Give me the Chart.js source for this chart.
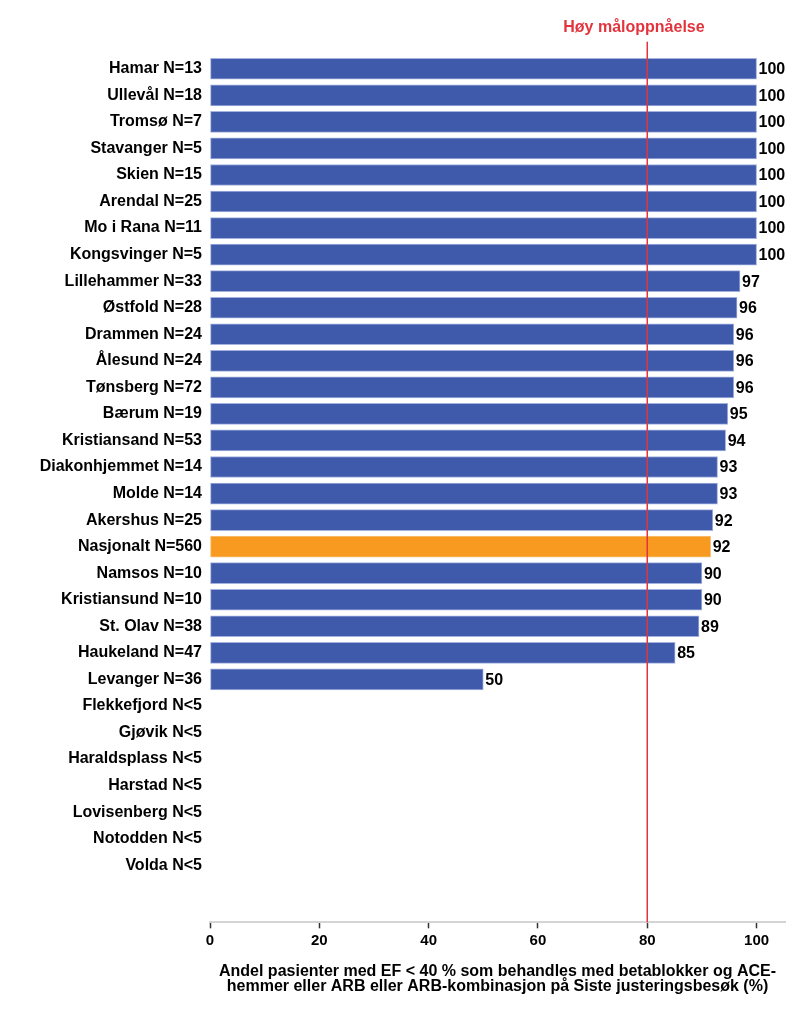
<!DOCTYPE html>
<html>
<head>
<meta charset="utf-8">
<script src="https://cdn.jsdelivr.net/npm/chart.js@4/dist/chart.umd.min.js"></script>
<style>
  html, body { margin: 0; padding: 0; background: #ffffff; }
  canvas { display: block; }
</style>
</head>
<body>
<canvas id="chart" width="794" height="1028"></canvas>
<script>
// Data
const categories = [
  'Hamar N=13', 'Ullevål N=18', 'Tromsø N=7', 'Stavanger N=5', 'Skien N=15',
  'Arendal N=25', 'Mo i Rana N=11', 'Kongsvinger N=5', 'Lillehammer N=33',
  'Østfold N=28', 'Drammen N=24', 'Ålesund N=24', 'Tønsberg N=72', 'Bærum N=19',
  'Kristiansand N=53', 'Diakonhjemmet N=14', 'Molde N=14', 'Akershus N=25',
  'Nasjonalt N=560', 'Namsos N=10', 'Kristiansund N=10', 'St. Olav N=38',
  'Haukeland N=47', 'Levanger N=36', 'Flekkefjord N<5', 'Gjøvik N<5',
  'Haraldsplass N<5', 'Harstad N<5', 'Lovisenberg N<5', 'Notodden N<5', 'Volda N<5'
];
const shares = [
  100, 100, 100, 100, 100, 100, 100, 100, 96.97,
  96.43, 95.83, 95.83, 95.83, 94.74,
  94.34, 92.86, 92.86, 92.0,
  91.6, 90.0, 90.0, 89.47,
  85.1, 50.0, null, null,
  null, null, null, null, null
];
const xTicks = [0, 20, 40, 60, 80, 100];
const targetValue = 80;
const targetLabel = 'Høy måloppnåelse';
const axisTitle = [
  'Andel pasienter med EF < 40 % som behandles med betablokker og ACE-',
  'hemmer eller ARB eller ARB-kombinasjon på Siste justeringsbesøk (%)'
];

const FONT = '"Liberation Sans", Arial, sans-serif';
const BLUE = '#3f59ab';
const BLUE_EDGE = '#a3b2df';
const ORANGE = '#f89a1f';
const ORANGE_EDGE = '#fbc27a';
const RED = '#e3343e';

const isNational = (i) => categories[i].startsWith('Nasjonalt');

const extrasPlugin = {
  id: 'extras',
  afterDatasetsDraw(c) {
    const { ctx, chartArea } = c;
    const xs = c.scales.x;
    // value labels at bar ends
    const meta = c.getDatasetMeta(0);
    ctx.save();
    ctx.font = `bold 16px ${FONT}`;
    ctx.fillStyle = '#000000';
    ctx.textAlign = 'left';
    ctx.textBaseline = 'middle';
    meta.data.forEach((bar, i) => {
      if (shares[i] == null) return;
      ctx.fillText(String(Math.round(shares[i])), bar.x + 2, bar.y + 1);
    });
    // target line
    const lx = xs.getPixelForValue(targetValue);
    ctx.fillStyle = RED;
    ctx.fillRect(lx - 0.75, chartArea.top, 1.5, chartArea.bottom - chartArea.top);
    ctx.fillText(targetLabel, lx - 84, chartArea.top - 14);
    ctx.restore();
  }
};

new Chart(document.getElementById('chart'), {
  type: 'bar',
  data: {
    datasets: [{
      data: categories.map((c, i) => ({ y: i, x: shares[i] })),
      backgroundColor: (ctx) => isNational(ctx.dataIndex) ? ORANGE : BLUE,
      borderColor: (ctx) => isNational(ctx.dataIndex) ? ORANGE_EDGE : BLUE_EDGE,
      borderWidth: 1,
      borderSkipped: false,
      barThickness: 21,
    }]
  },
  options: {
    indexAxis: 'y',
    responsive: false,
    animation: false,
    devicePixelRatio: 1,
    layout: {
      padding: { top: 41.7, right: 9, left: 0, bottom: 0 },
    },
    scales: {
      y: {
        type: 'linear',
        reverse: true,
        offset: false,
        bounds: 'data',
        min: -1.02,
        max: 32.15,
        grid: { display: false, drawTicks: false },
        border: { display: false },
        afterBuildTicks: (scale) => { scale.ticks = categories.map((c, i) => ({ value: i })); },
        ticks: {
          autoSkip: false,
          padding: 8,
          color: '#000000',
          font: { family: FONT, size: 16, weight: 'bold' },
          callback: (v) => categories[v] ?? '',
        },
        afterFit: (scale) => { scale.width = 210; },
      },
      x: {
        type: 'linear',
        min: 0,
        max: 105.2,
        grid: {
          drawOnChartArea: false,
          tickLength: 6,
          tickWidth: 1.5,
          tickColor: '#333333',
        },
        border: { color: '#d4d4d4', width: 2 },
        afterBuildTicks: (scale) => { scale.ticks = xTicks.map((v) => ({ value: v })); },
        ticks: {
          padding: 4,
          color: '#000000',
          font: { family: FONT, size: 15, weight: 'bold' },
        },
        title: {
          display: true,
          text: axisTitle,
          color: '#000000',
          font: { family: FONT, size: 16, weight: 'bold', lineHeight: '14.5px' },
          padding: { top: 0, bottom: 34.5 },
        },
        afterFit: (scale) => { scale.height = 105.7; },
      },
    },
    plugins: {
      legend: { display: false },
      tooltip: { enabled: false },
    },
  },
  plugins: [extrasPlugin],
});
</script>
</body>
</html>
